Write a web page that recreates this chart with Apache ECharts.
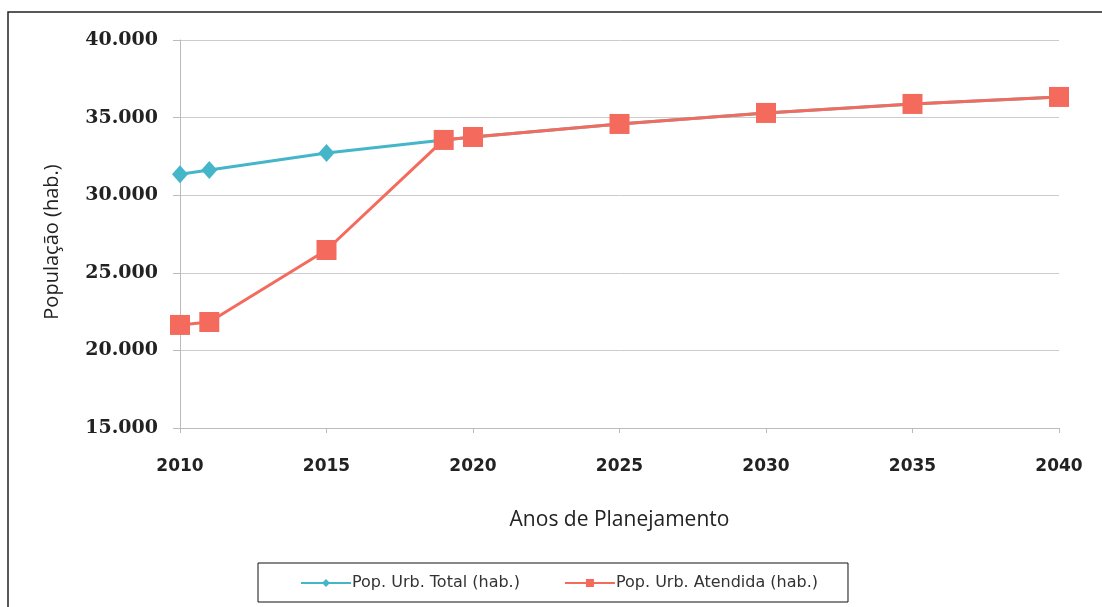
<!DOCTYPE html>
<html>
<head>
<meta charset="utf-8">
<script src="https://cdn.jsdelivr.net/npm/echarts@6/dist/echarts.min.js"></script>
<style>
  html, body { margin: 0; padding: 0; background: #fff; }
  #chart { width: 1102px; height: 607px; }
</style>
</head>
<body>
<div id="chart"></div>
<script>
const years = [2010, 2011, 2015, 2019, 2020, 2025, 2030, 2035, 2040];
const popTotal = [31350, 31620, 32720, 33560, 33750, 34590, 35300, 35880, 36330];
const popAtendida = [21640, 21830, 26470, 33560, 33750, 34590, 35300, 35880, 36330];
const seriesNames = ['Pop. Urb. Total (hab.)', 'Pop. Urb. Atendida (hab.)'];
const xTitle = 'Anos de Planejamento';
const yTitle = 'População (hab.)';

const blue = '#45B6C9';
const red = '#F46B5D';

const chart = echarts.init(document.getElementById('chart'));
chart.setOption({
  animation: false,
  backgroundColor: '#fff',
  graphic: [{
    type: 'rect',
    shape: { x: 8, y: 12, width: 1200, height: 700 },
    style: { fill: 'none', stroke: '#222', lineWidth: 1.5 },
    silent: true,
    z: -1
  }],
  grid: { left: 180, right: 43, top: 40, bottom: 179 },
  legend: {
    left: 258, top: 563,
    borderColor: '#111', borderWidth: 1,
    padding: [12, 30, 11, 42],
    itemGap: 44,
    itemWidth: 50, itemHeight: 10,
    textStyle: { fontFamily: 'DejaVu Sans', fontSize: 16, color: '#333', padding: [0, 0, 0, -4] },
    data: seriesNames
  },
  xAxis: {
    type: 'value', min: 2010, max: 2040, interval: 5,
    name: xTitle, nameLocation: 'middle', nameGap: 82,
    nameTextStyle: { fontFamily: 'Open Sans', fontSize: 21, color: '#222' },
    axisLine: { show: true, lineStyle: { color: '#bbb' } },
    axisTick: { show: true, length: 5, lineStyle: { color: '#bbb' } },
    splitLine: { show: false },
    axisLabel: { margin: 30, fontFamily: 'DejaVu Sans', fontWeight: 'bold', fontSize: 17, color: '#222', formatter: v => String(v) }
  },
  yAxis: {
    type: 'value', min: 15000, max: 40000, interval: 5000,
    name: yTitle, nameLocation: 'middle', nameGap: 118, nameRotate: 90,
    nameTextStyle: { fontFamily: 'Open Sans', fontSize: 20, color: '#222', padding: [0, 16, 0, 0] },
    axisLine: { show: true, lineStyle: { color: '#bbb' } },
    axisTick: { show: true, length: 7, lineStyle: { color: '#bbb' } },
    splitLine: { show: true, lineStyle: { color: '#ccc' } },
    axisLabel: { margin: 22, fontFamily: 'DejaVu Serif', fontWeight: 'bold', fontSize: 19, color: '#222',
      formatter: v => String(v).replace(/\B(?=(\d{3})+(?!\d))/g, '.') }
  },
  series: [
    {
      name: seriesNames[0], type: 'line',
      data: years.map((y, i) => [y, popTotal[i]]),
      symbol: 'diamond', symbolSize: [16, 18],
      lineStyle: { color: blue, width: 3 },
      itemStyle: { color: blue },
      z: 2
    },
    {
      name: seriesNames[1], type: 'line',
      data: years.map((y, i) => [y, popAtendida[i]]),
      symbol: 'rect', symbolSize: 20,
      lineStyle: { color: red, width: 3 },
      itemStyle: { color: red },
      z: 3
    }
  ]
});
</script>
</body>
</html>
